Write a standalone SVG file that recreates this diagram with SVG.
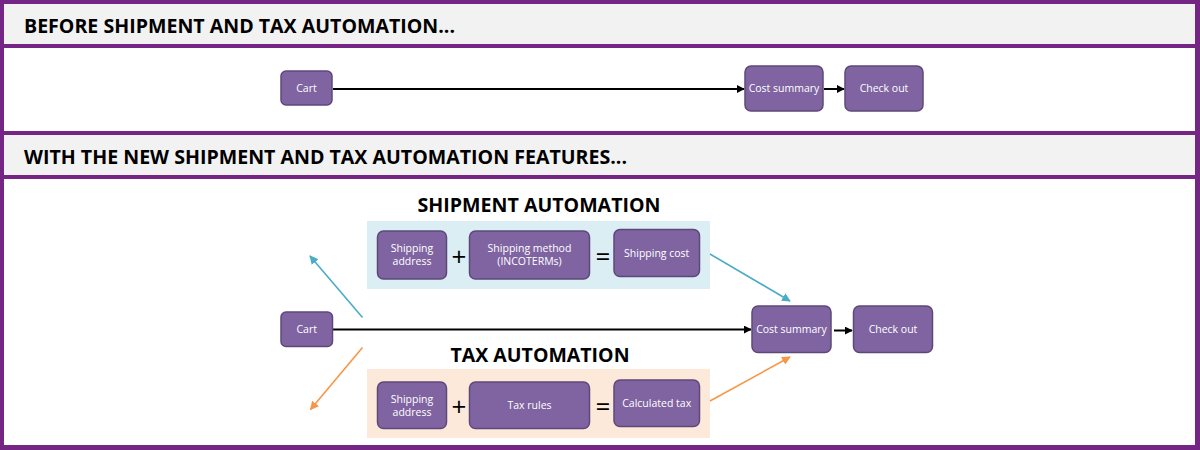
<svg xmlns="http://www.w3.org/2000/svg" width="1200" height="450" viewBox="0 0 1200 450">
<defs>
<style>
.node rect{fill:#8064a2;stroke:#5e4879;stroke-width:1.5}
.node text{fill:#ffffff;font-family:"Open Sans","Noto Sans",sans-serif;font-size:10.5px;text-anchor:middle}
.head{font-family:"Open Sans","Noto Sans",sans-serif;font-weight:bold;fill:#000}
.op{font-family:"Open Sans","Noto Sans",sans-serif;font-size:26px;fill:#000;text-anchor:middle}
.conn{fill:none;stroke-width:1.6}
.blk{stroke-width:2}
</style>
<marker id="ab" viewBox="0 0 10 10" refX="9" refY="5" markerWidth="4" markerHeight="4" orient="auto" markerUnits="strokeWidth"><path d="M0,0L10,5L0,10z" fill="#000"/></marker>
<marker id="ac" viewBox="0 0 10 10" refX="9" refY="5" markerWidth="5.5" markerHeight="5.5" orient="auto" markerUnits="strokeWidth"><path d="M0,0L10,5L0,10z" fill="#4bacc6"/></marker>
<marker id="ao" viewBox="0 0 10 10" refX="9" refY="5" markerWidth="5.5" markerHeight="5.5" orient="auto" markerUnits="strokeWidth"><path d="M0,0L10,5L0,10z" fill="#f79646"/></marker>
</defs>
<rect x="0" y="0" width="1200" height="450" fill="#752584"/>
<rect x="4" y="4" width="1191" height="40" fill="#f2f2f2"/>
<rect x="4" y="48" width="1191" height="83" fill="#ffffff"/>
<rect x="4" y="135" width="1191" height="40" fill="#f2f2f2"/>
<rect x="4" y="179" width="1191" height="266" fill="#ffffff"/>
<text class="head" x="24" y="33" font-size="20" textLength="431" lengthAdjust="spacingAndGlyphs">BEFORE SHIPMENT AND TAX AUTOMATION...</text>
<text class="head" x="24" y="164" font-size="20" textLength="603" lengthAdjust="spacingAndGlyphs">WITH THE NEW SHIPMENT AND TAX AUTOMATION FEATURES...</text>

<rect id="ship-bg" x="367" y="221" width="343" height="68" fill="#daeef3"/>
<rect id="tax-bg" x="367" y="369" width="343" height="69" fill="#fde9d9"/>
<text class="head" x="539" y="212" font-size="19" text-anchor="middle" textLength="243" lengthAdjust="spacingAndGlyphs">SHIPMENT AUTOMATION</text>
<text class="head" x="540" y="361.5" font-size="19" text-anchor="middle" textLength="179" lengthAdjust="spacingAndGlyphs">TAX AUTOMATION</text>
<text class="op" x="459" y="266">+</text>
<text class="op" x="603" y="266">=</text>
<text class="op" x="459" y="416">+</text>
<text class="op" x="603" y="416">=</text>

<g id="connectors">
<line class="conn blk" x1="333" y1="89" x2="744" y2="89" stroke="#000" marker-end="url(#ab)"/>
<line class="conn blk" x1="824" y1="89" x2="844" y2="89" stroke="#000" marker-end="url(#ab)"/>
<line class="conn blk" x1="333" y1="329.5" x2="751" y2="329.5" stroke="#000" marker-end="url(#ab)"/>
<line class="conn blk" x1="834" y1="330.5" x2="852" y2="330.5" stroke="#000" marker-end="url(#ab)"/>
<line class="conn" x1="362.5" y1="317.5" x2="310" y2="256" stroke="#4bacc6" marker-end="url(#ac)"/>
<line class="conn" x1="362.5" y1="347.5" x2="310.5" y2="409.5" stroke="#f79646" marker-end="url(#ao)"/>
<line class="conn" x1="710" y1="254" x2="790" y2="301" stroke="#4bacc6" marker-end="url(#ac)"/>
<line class="conn" x1="710" y1="401" x2="790" y2="357" stroke="#f79646" marker-end="url(#ao)"/>
</g>

<g id="cart1" class="node"><rect x="281" y="71" width="51" height="34" rx="5"/><text x="306.5" y="92">Cart</text></g>
<g id="cost1" class="node"><rect x="745" y="66" width="78" height="45" rx="6"/><text x="784" y="92">Cost summary</text></g>
<g id="checkout1" class="node"><rect x="845" y="66" width="78" height="45" rx="6"/><text x="884" y="92">Check out</text></g>

<g id="cart2" class="node"><rect x="281" y="312" width="51.5" height="34.5" rx="5"/><text x="306.7" y="333">Cart</text></g>
<g id="cost2" class="node"><rect x="752" y="306" width="79" height="46.5" rx="6"/><text x="791.5" y="333">Cost summary</text></g>
<g id="checkout2" class="node"><rect x="853.5" y="306" width="79" height="46.5" rx="6"/><text x="893" y="333">Check out</text></g>

<g id="ship-addr" class="node"><rect x="377.5" y="231" width="69" height="48" rx="6"/><text x="412" y="252">Shipping</text><text x="412" y="265">address</text></g>
<g id="ship-method" class="node"><rect x="469.5" y="231" width="120" height="48" rx="6"/><text x="529.5" y="252">Shipping method</text><text x="529.5" y="265">(INCOTERMs)</text></g>
<g id="ship-cost" class="node"><rect x="614" y="229.5" width="85.5" height="47" rx="6"/><text x="656.7" y="257">Shipping cost</text></g>

<g id="tax-addr" class="node"><rect x="377.5" y="382" width="69" height="46.5" rx="6"/><text x="412" y="403">Shipping</text><text x="412" y="416">address</text></g>
<g id="tax-rules" class="node"><rect x="469.5" y="382" width="120" height="46.5" rx="6"/><text x="529.5" y="409">Tax rules</text></g>
<g id="calc-tax" class="node"><rect x="614" y="380" width="85.5" height="46.5" rx="6"/><text x="656.7" y="407">Calculated tax</text></g>
</svg>
